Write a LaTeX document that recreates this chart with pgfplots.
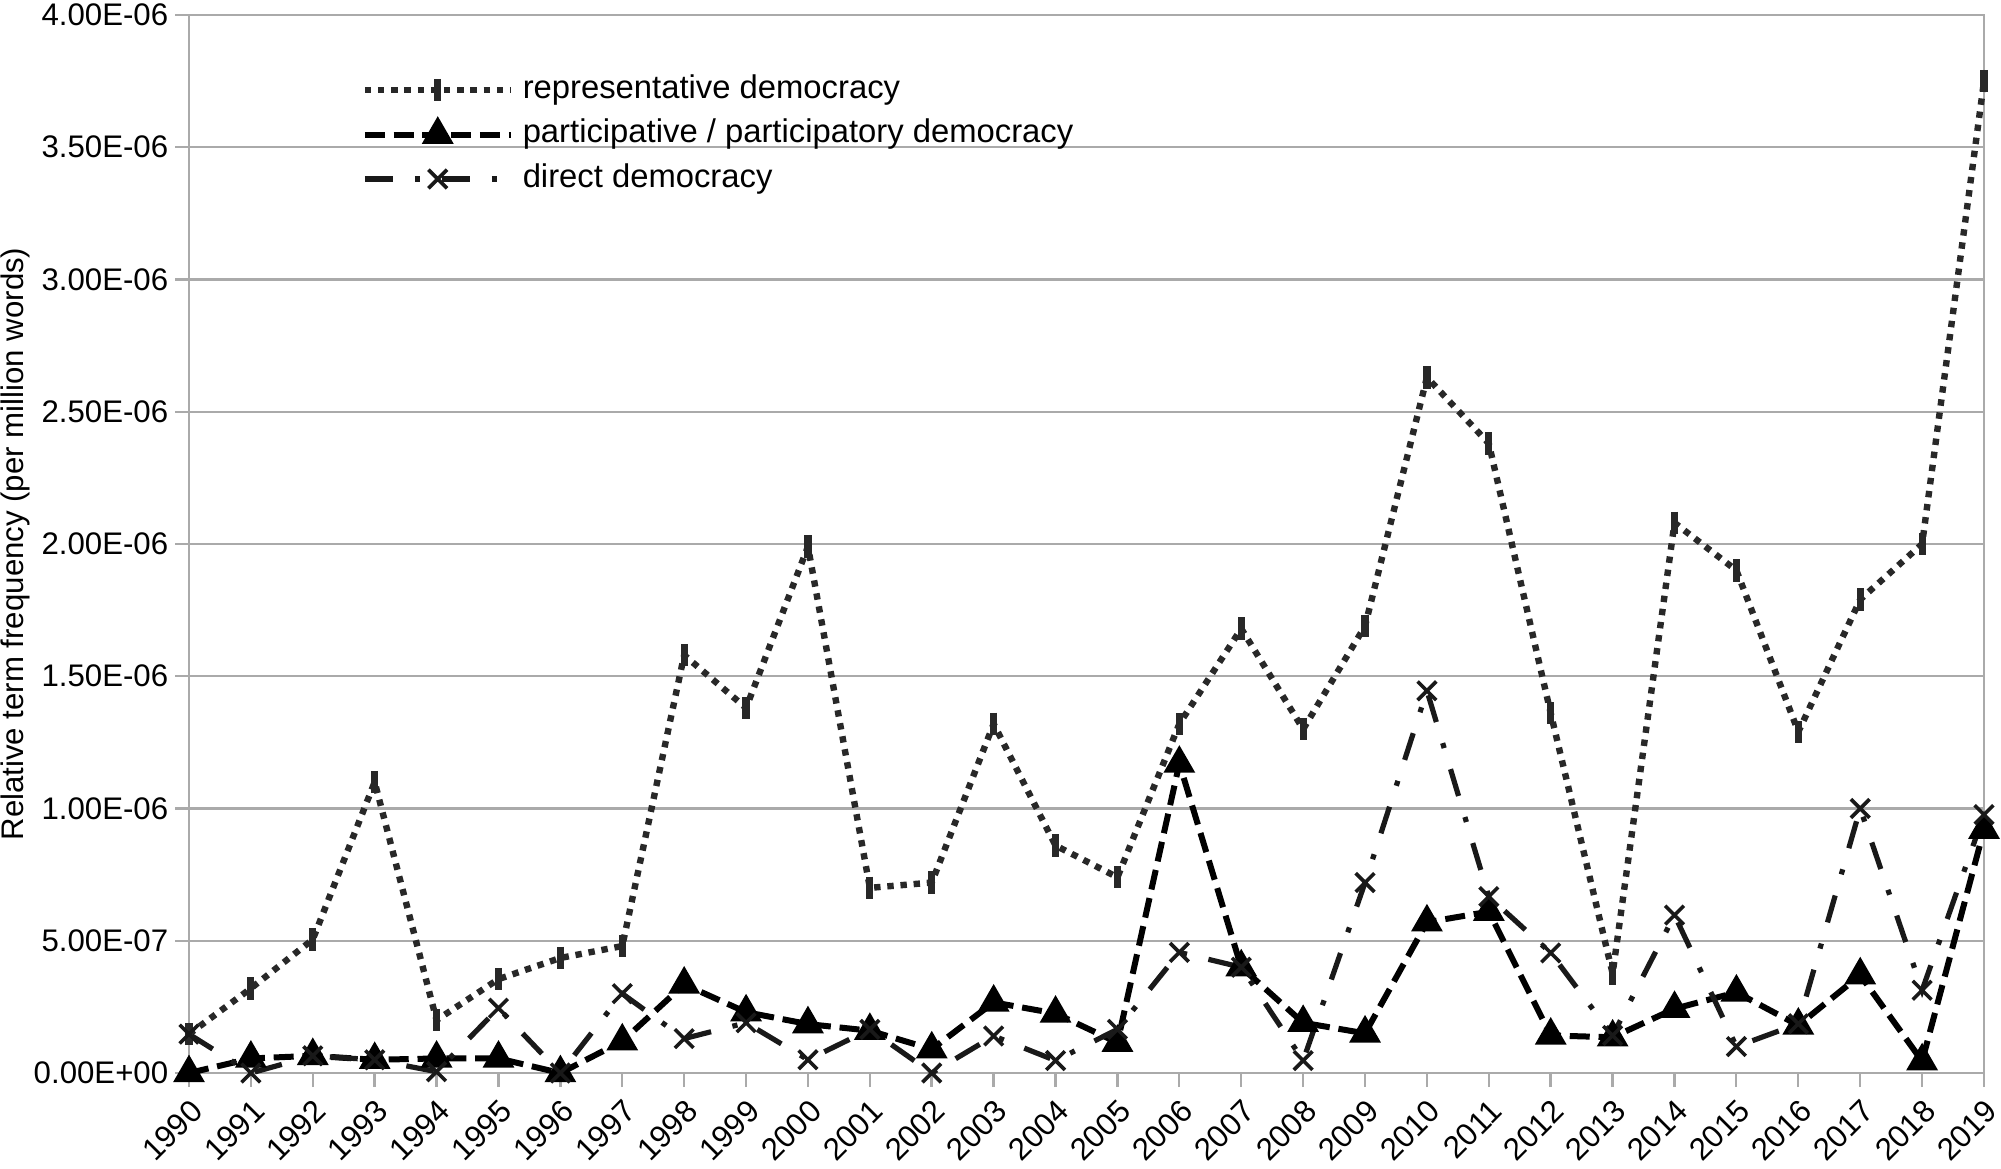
\documentclass[border=0pt]{standalone}
\usepackage{pgfplots}
\usepackage{pgfplotstable}
\pgfplotsset{compat=1.18}
\usepackage{fontspec}
\setmainfont{Liberation Sans}
\definecolor{gridgray}{RGB}{170,170,170}
\definecolor{repcol}{RGB}{40,40,40}
\definecolor{dircol}{RGB}{25,25,25}

\pgfplotstableread{
year rep part dir
1990 0.147e-6 0.0e-6   0.147e-6
1991 0.32e-6  0.055e-6 0.0e-6
1992 0.505e-6 0.065e-6 0.065e-6
1993 1.10e-6  0.05e-6  0.05e-6
1994 0.20e-6  0.055e-6 0.005e-6
1995 0.355e-6 0.055e-6 0.245e-6
1996 0.435e-6 0.0e-6   0.0e-6
1997 0.48e-6  0.12e-6  0.30e-6
1998 1.58e-6  0.335e-6 0.13e-6
1999 1.38e-6  0.23e-6  0.19e-6
2000 1.99e-6  0.185e-6 0.05e-6
2001 0.70e-6  0.16e-6  0.165e-6
2002 0.72e-6  0.09e-6  0.0e-6
2003 1.32e-6  0.267e-6 0.14e-6
2004 0.86e-6  0.225e-6 0.047e-6
2005 0.74e-6  0.115e-6 0.165e-6
2006 1.32e-6  1.17e-6  0.456e-6
2007 1.68e-6  0.40e-6  0.40e-6
2008 1.30e-6  0.19e-6  0.047e-6
2009 1.69e-6  0.15e-6  0.72e-6
2010 2.63e-6  0.57e-6  1.445e-6
2011 2.38e-6  0.61e-6  0.667e-6
2012 1.36e-6  0.142e-6 0.454e-6
2013 0.376e-6 0.135e-6 0.142e-6
2014 2.08e-6  0.243e-6 0.597e-6
2015 1.90e-6  0.305e-6 0.10e-6
2016 1.29e-6  0.18e-6  0.186e-6
2017 1.79e-6  0.37e-6  1.00e-6
2018 2.00e-6  0.045e-6 0.313e-6
2019 3.75e-6  0.92e-6  0.977e-6
}\datatable

\begin{document}
\begin{tikzpicture}
\begin{axis}[
  at={(0,0)}, anchor=south west,
  scale only axis,
  width=448.75pt, height=264.5pt,
  xmin=1990, xmax=2019,
  ymin=0, ymax=4e-6,
  clip=false,
  scaled y ticks=false,
  axis line style={gridgray, line width=0.6pt},
  tick style={gridgray, line width=0.6pt},
  tick align=outside,
  xtick pos=bottom, ytick pos=left,
  major tick length=3.5pt,
  xtick={1990,...,2019},
  xticklabels={1990,1991,1992,1993,1994,1995,1996,1997,1998,1999,2000,2001,2002,2003,2004,2005,2006,2007,2008,2009,2010,2011,2012,2013,2014,2015,2016,2017,2018,2019},
  ytick={0,0.5e-6,1e-6,1.5e-6,2e-6,2.5e-6,3e-6,3.5e-6,4e-6},
  yticklabels={0.00E+00,5.00E-07,1.00E-06,1.50E-06,2.00E-06,2.50E-06,3.00E-06,3.50E-06,4.00E-06},
  ymajorgrids,
  major grid style={gridgray, line width=0.6pt},
  x tick label style={font=\fontsize{7.8}{8}\selectfont, inner sep=0pt, anchor=north east, xshift=0pt, yshift=-2.5pt, rotate=45},
  y tick label style={font=\fontsize{7.8}{9}\selectfont, inner sep=0pt, xshift=-1.5pt},
  ylabel={Relative term frequency (per million words)},
  ylabel style={font=\fontsize{7.8}{9}\selectfont, at={(axis description cs:-0.0969,0.5)}, anchor=center},
  legend cell align=left,
  legend style={draw=none, fill=none, at={(0.089,0.952)}, anchor=north west,
    font=\fontsize{8.2}{9}\selectfont, row sep=3.3pt,
    nodes={inner sep=0pt, text height=6pt, text depth=1.8pt},
    /tikz/every odd column/.append style={column sep=2.2pt}},
  legend image code/.code={\draw[#1, mark repeat=2, mark phase=2] plot coordinates {(0pt,0pt) (18.25pt,0pt) (36.5pt,0pt)};},
]
\addplot[repcol, line width=1.6pt, dash pattern=on 1.6pt off 1.7pt,
  mark=|, mark size=2.8pt, mark options={solid, line width=1.8pt, repcol}]
  table[x=year, y=rep] {\datatable};
\addlegendentry{representative democracy}
\addplot[black, line width=1.5pt, dash pattern=on 5pt off 2.2pt,
  mark=triangle*, mark size=3.1pt, mark options={solid, black}]
  table[x=year, y=part] {\datatable};
\addlegendentry{participative / participatory democracy}
\addplot[dircol, line width=1.3pt, dash pattern=on 7pt off 5.5pt on 1.3pt off 5.5pt,
  mark=x, mark size=3.3pt, mark options={solid, line width=0.9pt, dircol}]
  table[x=year, y=dir] {\datatable};
\addlegendentry{direct democracy}
\end{axis}
\pgfresetboundingbox
\path[use as bounding box] (-47.25pt,-23.75pt) rectangle (453pt,268.25pt);
\end{tikzpicture}
\end{document}
